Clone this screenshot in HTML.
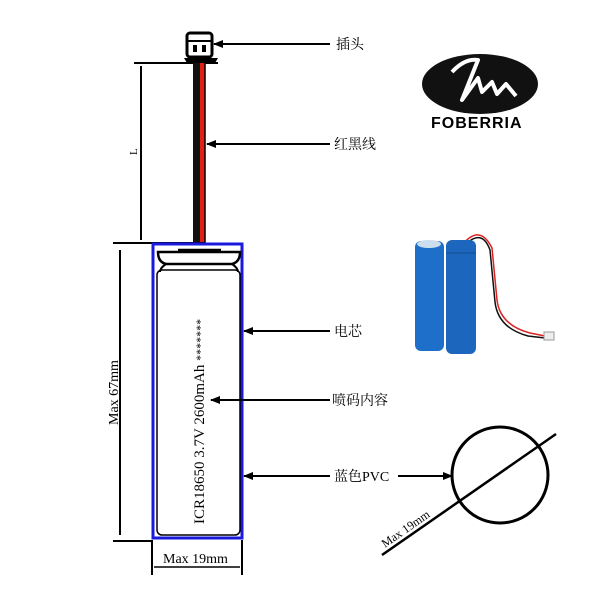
<html><body style="margin:0;background:#fff">
<svg width="600" height="600" xmlns="http://www.w3.org/2000/svg" style="font-family:'Liberation Serif','Noto Serif CJK SC',serif">
<defs><marker id="a" markerWidth="10" markerHeight="8" refX="9" refY="4" orient="auto" markerUnits="userSpaceOnUse"><path d="M0,0 L10,4 L0,8 z" fill="#000"/></marker></defs>
<rect width="600" height="600" fill="#fff"/>
<!-- connector -->
<rect x="187" y="33" width="25" height="24" rx="3" fill="none" stroke="#000" stroke-width="3"/>
<line x1="187" y1="41" x2="212" y2="41" stroke="#000" stroke-width="2"/>
<rect x="193" y="45" width="4" height="7" fill="#000"/><rect x="202" y="45" width="4" height="7" fill="#000"/>
<path d="M184,58 L218,58 L215,63 L187,63 z" fill="#000"/>
<line x1="134" y1="63" x2="218" y2="63" stroke="#000" stroke-width="2"/>
<line x1="141" y1="66" x2="141" y2="240" stroke="#000" stroke-width="2"/>
<text x="0" y="0" font-size="11" transform="translate(137,155) rotate(-90)">L</text>
<!-- wires -->
<rect x="193" y="63" width="7" height="180" fill="#111"/>
<rect x="200" y="63" width="5" height="180" fill="#d21"/>
<line x1="205" y1="63" x2="205" y2="243" stroke="#000" stroke-width="1.5"/>
<line x1="113" y1="243" x2="205" y2="243" stroke="#000" stroke-width="2"/>
<!-- cell -->
<rect x="153" y="244" width="89" height="294" fill="none" stroke="#1a1adf" stroke-width="3"/>
<path d="M178,250 L221,250 M158,252 Q158,262 166,264 L232,264 Q240,262 240,252 Z" fill="none" stroke="#000" stroke-width="2.5"/>
<path d="M166,264 Q160,268 160,272 M232,264 Q238,268 238,272" fill="none" stroke="#000" stroke-width="2"/>
<rect x="157" y="270" width="83" height="265" rx="5" fill="none" stroke="#000" stroke-width="1.5"/>
<text font-size="15" transform="translate(204,524) rotate(-90)">ICR18650 3.7V 2600mAh <tspan font-size="12">*******</tspan></text>
<!-- height dim -->
<line x1="120" y1="250" x2="120" y2="535" stroke="#000" stroke-width="2"/>
<line x1="113" y1="541" x2="152" y2="541" stroke="#000" stroke-width="2"/>
<text font-size="14" transform="translate(118,425) rotate(-90)">Max 67mm</text>
<!-- width dim -->
<line x1="152" y1="540" x2="152" y2="575" stroke="#000" stroke-width="2"/>
<line x1="242" y1="540" x2="242" y2="575" stroke="#000" stroke-width="2"/>
<line x1="154" y1="567" x2="240" y2="567" stroke="#000" stroke-width="1.5"/>
<text x="163" y="563" font-size="14">Max 19mm</text>
<!-- arrows -->
<g stroke="#000" stroke-width="2" marker-end="url(#a)">
<line x1="330" y1="44" x2="214" y2="44"/>
<line x1="330" y1="144" x2="207" y2="144"/>
<line x1="330" y1="331" x2="244" y2="331"/>
<line x1="330" y1="400" x2="211" y2="400"/>
<line x1="330" y1="476" x2="244" y2="476"/>
<line x1="398" y1="476" x2="452" y2="476"/>
</g>
<g font-size="14">
<text x="336" y="49">插头</text>
<text x="334" y="149">红黑线</text>
<text x="334" y="336">电芯</text>
<text x="332" y="405">喷码内容</text>
<text x="334" y="481">蓝色PVC</text>
</g>
<circle cx="500" cy="475" r="48" fill="none" stroke="#000" stroke-width="3"/>
<line x1="382" y1="555" x2="556" y2="434" stroke="#000" stroke-width="2.5"/>
<text font-size="12" transform="translate(385,548) rotate(-34.8)">Max 19mm</text>
<!-- logo -->
<ellipse cx="480" cy="84" rx="58" ry="30" fill="#111"/>
<path d="M452,72 Q465,58 478,60 L462,100 L478,78 L482,92 L492,82 L497,94 L506,84 L516,96" fill="none" stroke="#fff" stroke-width="4" stroke-linejoin="round"/>
<text x="431" y="128" font-family="Liberation Sans,sans-serif" font-weight="bold" font-size="16" letter-spacing="1">FOBERRIA</text>
<!-- photo -->
<path d="M463,244 Q480,224 492,248 L497,300 Q500,325 530,333 L545,336" fill="none" stroke="#d22" stroke-width="1.5"/>
<path d="M465,245 Q482,228 490,250 L495,302 Q498,328 528,336 L545,338" fill="none" stroke="#111" stroke-width="1.5"/>
<rect x="544" y="332" width="10" height="8" fill="#eee" stroke="#999"/>
<rect x="415" y="241" width="29" height="110" rx="6" fill="#1e6fc9"/>
<ellipse cx="429" cy="244" rx="12" ry="4" fill="#cde"/>
<rect x="446" y="240" width="30" height="114" rx="6" fill="#1d66bd"/>
<rect x="446" y="252" width="30" height="2" fill="#175aa8"/>
</svg>
</body></html>
